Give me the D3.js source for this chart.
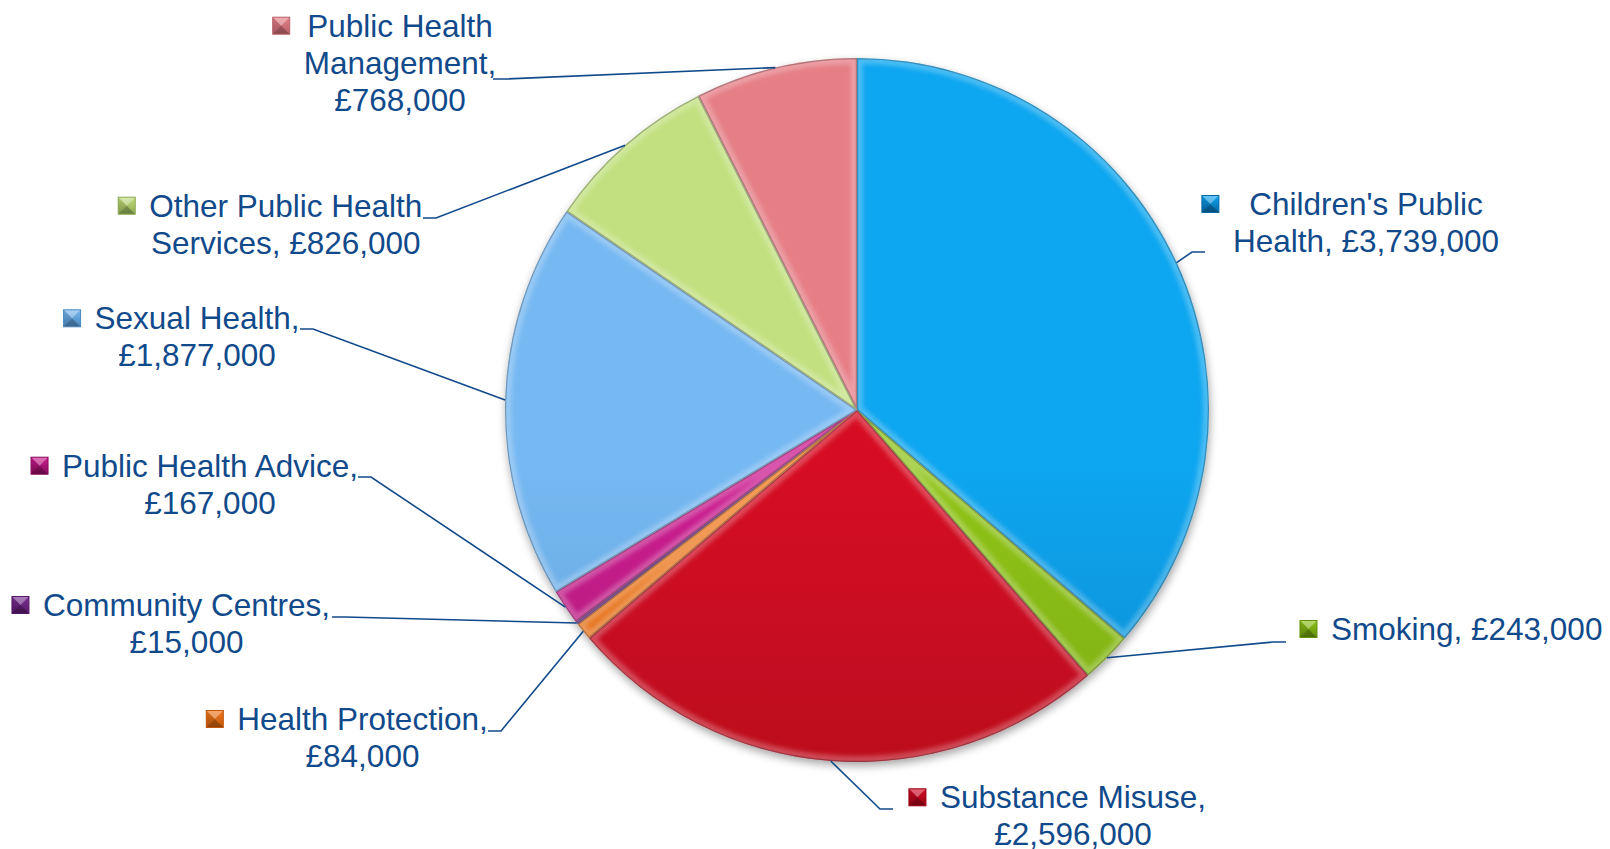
<!DOCTYPE html>
<html>
<head>
<meta charset="utf-8">
<script src="https://cdn.jsdelivr.net/npm/d3@7/dist/d3.min.js"></script>
<style>
  html, body { margin: 0; padding: 0; background: #ffffff; }
  svg { display: block; }
  text { font-family: "Liberation Sans", Arial, sans-serif; }
</style>
</head>
<body>
<script>
// ---------- data ----------
const categories = [
  "Children's Public Health",
  "Smoking",
  "Substance Misuse",
  "Health Protection",
  "Community Centres",
  "Public Health Advice",
  "Sexual Health",
  "Other Public Health Services",
  "Public Health Management"
];
const values = [3739000, 243000, 2596000, 84000, 15000, 167000, 1877000, 826000, 768000];

// ---------- styling ----------
const colorTop    = ["#0ea6f0", "#90c41a", "#d60a24", "#f07a20", "#7c3294", "#cc1e90", "#76b8f2", "#c2e080", "#e67e86"];
const colorBottom = ["#0468a6", "#64900c", "#980416", "#c0560a", "#561868", "#860a5a", "#4c88bc", "#8ca852", "#b8626a"];

// ---------- label layout (centre x, first baseline, line breaks, leader attach point) ----------
const labelCenterX   = [1366, 1466.7, 1073, 362.5, 186.5, 210, 197, 285.8, 400];
const labelBaselineY = [215, 640, 808.3, 730, 616, 476.7, 329.3, 216.7, 36.7];
const labelBreaks    = [[2], [], [2], [2], [2], [3], [2], [3], [2, 3]];
const leaderAttach   = [[1205, 252], [1286, 642], [893, 809], [488, 731], [332, 617], [358, 477], [300, 329], [423, 218], [493, 79]];

const W = 1610, H = 849;
const cx = 857, cy = 410, R = 352;
const textColor = "#114a8b";
const fontSize = 31.5, lineH = 37;

const svg = d3.select("body").append("svg").attr("width", W).attr("height", H);
svg.append("rect").attr("width", W).attr("height", H).attr("fill", "#ffffff");
const defs = svg.append("defs");

// shadow filter
const sh = defs.append("filter").attr("id", "shadow").attr("x", "-10%").attr("y", "-10%").attr("width", "120%").attr("height", "125%");
sh.append("feDropShadow").attr("dx", 1).attr("dy", 4).attr("stdDeviation", 4).attr("flood-color", "#000").attr("flood-opacity", 0.35);
const bl = defs.append("filter").attr("id", "soft");
bl.append("feGaussianBlur").attr("stdDeviation", 2);

// gradients
categories.forEach((c, i) => {
  const g = defs.append("linearGradient").attr("id", "grad" + i)
    .attr("gradientUnits", "userSpaceOnUse")
    .attr("x1", 0).attr("y1", cy - R).attr("x2", 0).attr("y2", cy + R);
  g.append("stop").attr("offset", "0%").attr("stop-color", colorTop[i]);
  g.append("stop").attr("offset", "100%").attr("stop-color", colorBottom[i]);
  const mg = defs.append("linearGradient").attr("id", "mgrad" + i)
    .attr("x1", 0).attr("y1", 0).attr("x2", 0).attr("y2", 1);
  mg.append("stop").attr("offset", "0%").attr("stop-color", colorTop[i]);
  mg.append("stop").attr("offset", "100%").attr("stop-color", colorBottom[i]);
});

const data = categories.map((c, i) => ({ name: c, value: values[i], i }));
const pie = d3.pie().sort(null).value(d => d.value).startAngle(0).endAngle(2 * Math.PI);
const arcs = pie(data);
const arc = d3.arc().innerRadius(0).outerRadius(R);
const edgeArc = d3.arc().innerRadius(R).outerRadius(R);

const gPie = svg.append("g").attr("transform", `translate(${cx},${cy})`);

// clip paths for bevel
arcs.forEach((a, i) => {
  defs.append("clipPath").attr("id", "clip" + i)
    .append("path").attr("d", arc(a)).attr("transform", `translate(${cx},${cy})`);
});

const shadowG = gPie.append("g").attr("filter", "url(#shadow)");
shadowG.selectAll("path.slice").data(arcs).join("path")
  .attr("class", "slice")
  .attr("d", arc)
  .attr("fill", d => `url(#grad${d.data.i})`);

// bevel highlights
const bevel = svg.append("g");
arcs.forEach((a, i) => {
  const g = bevel.append("g").attr("clip-path", `url(#clip${i})`);
  g.append("path").attr("d", arc(a)).attr("transform", `translate(${cx},${cy})`)
    .attr("fill", "none").attr("stroke", "#ffffff").attr("stroke-opacity", 0.25)
    .attr("stroke-width", 12).attr("filter", "url(#soft)");
  g.append("path").attr("d", arc(a)).attr("transform", `translate(${cx},${cy})`)
    .attr("fill", "none").attr("stroke", "#000000").attr("stroke-opacity", 0.25)
    .attr("stroke-width", 2.5);
});

// leader lines
const gLead = svg.append("g");
arcs.forEach((a, i) => {
  const p = edgeArc.centroid(a);
  const px = cx + p[0], py = cy + p[1];
  const [ax, ay] = leaderAttach[i];
  const ex = ax + 13 * Math.sign(px - ax);
  gLead.append("path")
    .attr("d", d3.line()([[ax, ay], [ex, ay], [px, py]]))
    .attr("fill", "none").attr("stroke", textColor).attr("stroke-width", 1.6);
});

// labels
const fmt = d3.format(",");
const gLab = svg.append("g");
data.forEach((d, i) => {
  const words = `${d.name}, £${fmt(d.value)}`.split(" ");
  const cuts = [0, ...labelBreaks[i], words.length];
  const lines = [];
  for (let k = 0; k < cuts.length - 1; k++) lines.push(words.slice(cuts[k], cuts[k + 1]).join(" "));
  const g = gLab.append("g");
  let maxW = 0;
  lines.forEach((ln, k) => {
    const t = g.append("text")
      .attr("x", labelCenterX[i]).attr("y", labelBaselineY[i] + k * lineH)
      .attr("text-anchor", "middle")
      .attr("font-size", fontSize).attr("fill", textColor)
      .text(ln);
    maxW = Math.max(maxW, t.node().getComputedTextLength());
  });
  const s = 17;
  const mx = labelCenterX[i] - maxW / 2 - 14 - s;
  const my = labelBaselineY[i] - 11 - s / 2;
  const m = g.append("g").attr("transform", `translate(${mx},${my})`);
  m.append("rect").attr("width", s).attr("height", s).attr("fill", `url(#mgrad${i})`);
  m.append("path").attr("d", `M0,0L${s},0L${s/2},${s/2}Z`).attr("fill", "#ffffff").attr("fill-opacity", 0.35);
  m.append("path").attr("d", `M0,${s}L${s},${s}L${s/2},${s/2}Z`).attr("fill", "#000000").attr("fill-opacity", 0.25);
  m.append("path").attr("d", `M0,0L0,${s}L${s/2},${s/2}Z`).attr("fill", "#000000").attr("fill-opacity", 0.1);
  m.append("rect").attr("width", s).attr("height", s).attr("fill", "none")
    .attr("stroke", colorBottom[i]).attr("stroke-width", 1);
});
</script>
</body>
</html>
